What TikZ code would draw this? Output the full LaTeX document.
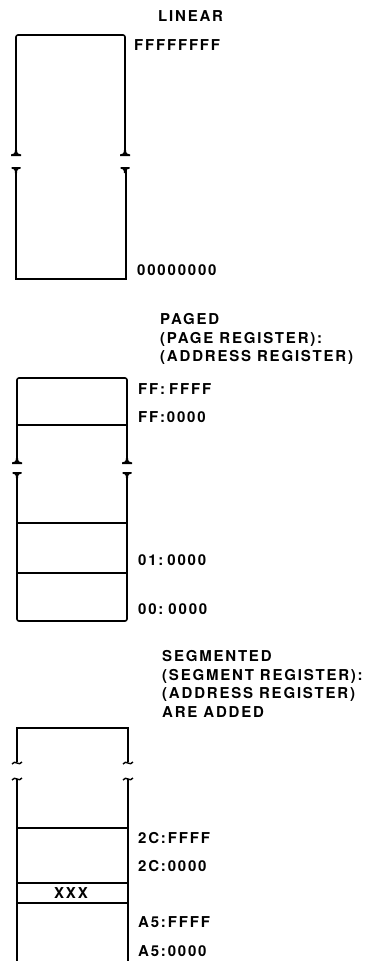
\documentclass[tikz,border=0pt]{standalone}
\usepackage{fontspec}
\setmainfont{TeX Gyre Heros}[LetterSpace=12]
\begin{document}
\begin{tikzpicture}[x=1pt,y=-1pt,
  lbl/.style={anchor=west,inner sep=0pt,font=\fontsize{15}{17}\selectfont\bfseries},
  ttl/.style={anchor=north west,inner sep=0pt,align=left,font=\fontsize{15}{18.8}\selectfont\bfseries},
  wall/.style={line width=1.6pt},
  divl/.style={line width=1.2pt},
  footend/.pic={\fill (-1,-5) .. controls (-1,-1.5) and (-2.5,-0.6) .. (-5,-0.6) -- (-5,1) -- (5,1) -- (5,-0.6) .. controls (2.5,-0.6) and (1,-1.5) .. (1,-5) -- cycle;},
  headend/.pic={\fill (-1,5) .. controls (-1,1.5) and (-2.5,0.6) .. (-4.5,0.6) -- (-4.5,-1) -- (4.5,-1) -- (4.5,0.6) .. controls (2.5,0.6) and (1,1.5) .. (1,5) -- cycle;}]
\useasboundingbox (0,0) rectangle (372,961);
% ---------- LINEAR ----------
\node[ttl] (tlin) at (158,10) {LINEAR};
\draw[wall,rounded corners=2pt] (16,153) -- (16,35) -- (125,35) -- (125,153);
\draw[wall] (16,170) -- (16,279) -- (126,279) -- (126,170);
\foreach \x in {16,125}{
  \pic at (\x,155) {footend};
  \pic at (\x,168) {headend};}
\node[lbl] (lf) at (134,45) {FFFFFFFF};
\node[lbl] (l0) at (137,270) {00000000};
% ---------- PAGED ----------
\node[ttl] (tpag) at (160,313) {PAGED\\(PAGE REGISTER):\\(ADDRESS REGISTER)};
\draw[wall,rounded corners=2pt] (17,461) -- (17,378) -- (127,378) -- (127,461);
\draw[divl] (17,425) -- (127,425);
\draw[wall,rounded corners=2pt] (17,475) -- (17,621) -- (127,621) -- (127,475);
\draw[divl] (17,523) -- (127,523);
\draw[divl] (17,573) -- (127,573);
\foreach \x in {17,127}{
  \pic at (\x,463) {footend};
  \pic at (\x,473) {headend};}
\node[lbl] (pff) at (138,389) {FF:\hspace{4pt}FFFF};
\node[lbl] (pf0) at (138,417) {FF:0000};
\node[lbl] (p01) at (138,560) {01:\hspace{4pt}0000};
\node[lbl] (p00) at (138,609) {00:\hspace{5pt}0000};
% ---------- SEGMENTED ----------
\node[ttl] (tseg) at (162,650) {SEGMENTED\\(SEGMENT REGISTER):\\(ADDRESS REGISTER)\\ARE ADDED};
\draw[wall] (17,762) -- (17,728) -- (128,728) -- (128,762);
\draw[wall] (17,779) -- (17,961) (128,779) -- (128,961);
\draw[divl] (17,828) -- (128,828);
\draw[divl] (17,883) -- (128,883);
\draw[divl] (17,903) -- (128,903);
\foreach \x in {17,128}{
  \draw[line width=1.4pt] (\x-5,764) .. controls (\x-2,759) and (\x+2,767) .. (\x+5,762);
  \draw[line width=1.4pt] (\x-5,780) .. controls (\x-2,775) and (\x+2,783) .. (\x+5,778);}
\node[lbl,anchor=center] (sx) at (71,893) {XXX};
\node[lbl] (s2f) at (138,838) {2C:\hspace{2pt}FFFF};
\node[lbl] (s20) at (138,866) {2C:0000};
\node[lbl] (saf) at (138,922) {A5:\hspace{2pt}FFFF};
\node[lbl] (sa0) at (138,951) {A5:0000};
\end{tikzpicture}
\end{document}
